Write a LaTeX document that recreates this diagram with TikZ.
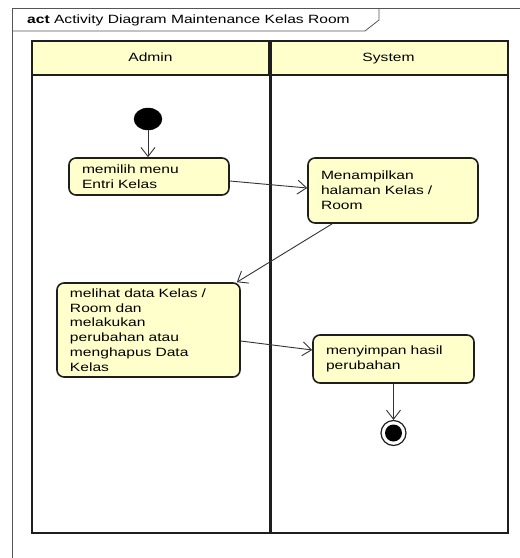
\documentclass[tikz,border=0pt]{standalone}
\usepackage{fontspec}
\setmainfont{Liberation Sans}[FakeStretch=1.3]
\usetikzlibrary{arrows.meta,shapes.geometric}
\definecolor{umlyellow}{HTML}{FFFFCC}
\definecolor{umlline}{HTML}{1E1E1E}
\definecolor{flowline}{HTML}{333333}
\definecolor{framegray}{HTML}{555555}
\begin{document}
\begin{tikzpicture}[x=1pt,y=-1pt,
  font=\fontsize{12}{14.8}\selectfont,
  frameline/.style={draw=framegray, line width=0.8pt},
  lanehead/.style={draw=umlline, line width=2pt, fill=umlyellow, inner sep=0pt, text height=9pt, text depth=2.5pt},
  lanebody/.style={draw=umlline, line width=2pt, inner sep=0pt},
  actbox/.style={draw=umlline, line width=1.6pt, fill=umlyellow, rounded corners=7pt,
                 inner xsep=13pt, inner ysep=0pt, align=left},
  flow/.style={draw=flowline, line width=0.9pt, -{Straight Barb[length=9pt,width=14pt,line width=0.9pt]}}
]
\useasboundingbox (0,0) rectangle (520,558);
% outer frame
\draw[frameline] (520,8) -- (12,8) -- (12,558);
\draw[frameline] (12,31) -- (365,31) -- (379,20) -- (379,8);
\node[anchor=west, inner sep=0pt] (title) at (27,20) {\textbf{act} Activity Diagram Maintenance Kelas Room};
% swimlanes
\node[lanebody, minimum width=476pt, minimum height=458pt] (lanes) at (270,304) {};
\node[lanehead, minimum width=237pt, minimum height=34pt] (hadmin) at (150.5,58) {Admin};
\node[lanehead, minimum width=239pt, minimum height=34pt] (hsystem) at (388.5,58) {System};
\draw[umlline, line width=3pt] (hadmin.north east) -- (hadmin.north east |- lanes.south);
% activities
\node[ellipse, fill=black, draw=black, minimum width=28pt, minimum height=22pt, inner sep=0pt] (start) at (148,119) {};
\node[actbox, minimum width=160pt, minimum height=37pt, text width=134pt] (b1) at (149,176.5) {memilih menu\\Entri Kelas};
\node[actbox, minimum width=170pt, minimum height=65pt, text width=144pt] (b2) at (393,190.5) {Menampilkan\\halaman Kelas /\\Room};
\node[actbox, minimum width=183pt, minimum height=94pt, text width=157pt] (b3) at (148.5,330) {melihat data Kelas /\\Room dan\\melakukan\\perubahan atau\\menghapus Data\\Kelas};
\node[actbox, minimum width=161pt, minimum height=48pt, text width=135pt] (b4) at (393.5,359) {menyimpan hasil\\perubahan};
\node[circle, draw=umlline, line width=1.2pt, fill=white, minimum size=25pt, inner sep=0pt] (end) at (393.5,433) {};
\node[circle, fill=black, minimum size=17pt, inner sep=0pt] (endin) at (end.center) {};
% flows
\draw[flow] (start.south) -- (start.south |- b1.north);
\draw[flow] ([yshift=-4.5pt]b1.east) -- ([yshift=2.5pt]b2.west);
\draw[flow] ([xshift=25pt]b2.south west) -- ([xshift=-4pt]b3.north east);
\draw[flow] ([yshift=-11pt]b3.east) -- ([yshift=9pt]b4.west);
\draw[flow] (b4.south) -- (end.north);
\end{tikzpicture}
\end{document}
